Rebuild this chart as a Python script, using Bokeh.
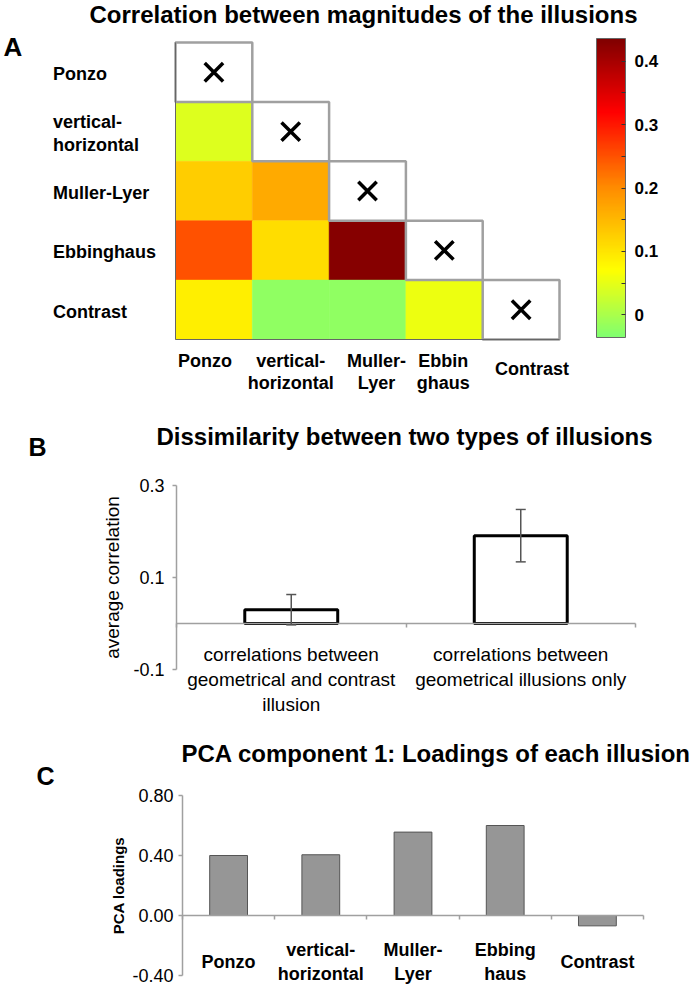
import numpy as np
from bokeh.plotting import figure
from bokeh.models import (ColumnDataSource, LinearColorMapper, ColorBar, FixedTicker,
                          LabelSet, Label, Whisker, TeeHead, NumeralTickFormatter,
                          Range1d, CustomJSTickFormatter)
from bokeh.layouts import column
from bokeh.embed import file_html
from bokeh.resources import INLINE
from bokeh.core.properties import value

FONT = "Liberation Sans"

# ---------------- data ----------------
illusions = ["Ponzo", "vertical-horizontal", "Muller-Lyer", "Ebbinghaus", "Contrast"]
row_labels = ["Ponzo", "vertical-\nhorizontal", "Muller-Lyer", "Ebbinghaus", "Contrast"]
col_labels = ["Ponzo", "vertical-\nhorizontal", "Muller-\nLyer", "Ebbin\nghaus", "Contrast"]
pair_row = ["vertical-horizontal", "Muller-Lyer", "Muller-Lyer", "Ebbinghaus", "Ebbinghaus",
            "Ebbinghaus", "Contrast", "Contrast", "Contrast", "Contrast"]
pair_col = ["Ponzo", "Ponzo", "vertical-horizontal", "Ponzo", "vertical-horizontal",
            "Muller-Lyer", "Ponzo", "vertical-horizontal", "Muller-Lyer", "Ebbinghaus"]
pair_corr = [0.042, 0.128, 0.166, 0.251, 0.108, 0.43, 0.089, -0.023, -0.023, 0.056]
cbar_ticks = [0.0, 0.1, 0.2, 0.3, 0.4]
cbar_minor = [-0.05, 0.05, 0.15, 0.25, 0.35]
cbar_low, cbar_high = -0.036, 0.436

group_labels = ["correlations between\ngeometrical and contrast\nillusion",
                "correlations between\ngeometrical illusions only"]
group_mean = [0.030, 0.191]
group_err = [0.033, 0.057]
b_ticks = [-0.1, 0.1, 0.3]
b_lim = (-0.1, 0.3)

pca_labels = ["Ponzo", "vertical-\nhorizontal", "Muller-\nLyer", "Ebbing\nhaus", "Contrast"]
pca_loadings = [0.40, 0.405, 0.556, 0.60, -0.069]
c_ticks = [-0.4, 0.0, 0.4, 0.8]
c_lim = (-0.4, 0.8)

# ---------------- colour map ----------------
anchor_v = [cbar_low, 0.07, 0.2, 0.32, cbar_high]
anchor_rgb = [(128, 255, 112), (255, 255, 0), (255, 140, 0), (255, 0, 0), (128, 0, 0)]
palette = []
for v in np.linspace(cbar_low, cbar_high, 256):
    rgb = [int(round(np.interp(v, anchor_v, [c[k] for c in anchor_rgb]))) for k in range(3)]
    palette.append("#%02x%02x%02x" % tuple(rgb))
mapper = LinearColorMapper(palette=palette, low=cbar_low, high=cbar_high)

W = 700


def span_range(lo, hi, px_lo, px_hi, total, flip=False):
    """Range so that data lo..hi occupies canvas pixels px_lo..px_hi (y measured from top if flip)."""
    per = (px_hi - px_lo) / (hi - lo)
    if flip:
        return Range1d(lo - (total - px_hi) / per, hi + px_lo / per)
    return Range1d(lo - px_lo / per, hi + (total - px_hi) / per)


def base_fig(h, xr, yr):
    p = figure(width=W, height=h, x_range=xr, y_range=yr, output_backend="svg",
               toolbar_location=None, tools="", outline_line_color=None,
               background_fill_color="white", border_fill_color="white", min_border=0)
    p.grid.visible = False
    return p


def screen_label(p, h, x, y_top, text, size, bold=True, align="left", angle=0.0):
    p.add_layout(Label(x=x, y=h - y_top, x_units="screen", y_units="screen", text=text,
                       text_font=FONT, text_font_size=size, angle=angle,
                       text_font_style="bold" if bold else "normal",
                       text_align=align, text_baseline="middle", text_color="black"))


def style_axis(ax, color="#a0a0a0", width=1.5):
    ax.axis_line_color = color
    ax.axis_line_width = width
    ax.major_tick_line_color = color
    ax.major_tick_line_width = width
    ax.major_tick_in = 0
    ax.major_tick_out = 4
    ax.minor_tick_line_color = None


def line_source(xs, ys, labels, base_off, lh, mode, dx=None, dy=None):
    """One row per text line, each with its own offsets (so every line is centred)."""
    d = dict(x=[], y=[], t=[], off=[], dx=[])
    dx = dx if dx is not None else [0] * len(labels)
    dy = dy if dy is not None else [0] * len(labels)
    for x, y, lab, ddx, ddy in zip(xs, ys, labels, dx, dy):
        lines = lab.split("\n")
        L = len(lines)
        for j, ln in enumerate(lines):
            off = base_off - j * lh if mode == "top" else base_off + ((L - 1) / 2 - j) * lh
            d["x"].append(x)
            d["y"].append(y)
            d["t"].append(ln)
            d["off"].append(off + ddy)
            d["dx"].append(ddx)
    return ColumnDataSource(d)


n = len(illusions)
# ================= Panel A =================
HA = 410
A_top, A_bot = 42, 339
pA = base_fig(HA, span_range(0, n, 175, 559, W), span_range(0, n, A_top, A_bot, HA, flip=True))

col_idx = np.array([illusions.index(c) for c in pair_col])
row_idx = np.array([illusions.index(r) for r in pair_row])
heat = ColumnDataSource(dict(x=col_idx + 0.5, y=n - 1 - row_idx + 0.5, v=pair_corr))
pA.rect(x="x", y="y", width=1, height=1, source=heat,
        fill_color={"field": "v", "transform": mapper},
        line_color={"field": "v", "transform": mapper}, line_width=0.5)
diag = np.arange(n)
diag_src = ColumnDataSource(dict(x=diag + 0.5, y=n - 1 - diag + 0.5))
pA.rect(x="x", y="y", width=1, height=1, source=diag_src, fill_color="white",
        line_color="#a0a0a0", line_width=2.5)
pA.scatter(x="x", y="y", source=diag_src, marker="x", size=26, line_width=3.5, line_color="black")

pA.xaxis.fixed_location = 0
pA.yaxis.fixed_location = 0
for ax in (pA.xaxis, pA.yaxis):
    ax.bounds = (0, n)
    ax.ticker = FixedTicker(ticks=[])
    style_axis(ax, "#666666", 1)

row_src = ColumnDataSource(dict(x=[0.5] * n, y=n - 1 - diag + 0.5, t=row_labels))
pA.add_layout(LabelSet(x="x", y="y", text="t", source=row_src, x_offset=-161, y_offset=-2,
                       text_align="left", text_baseline="middle", text_font=value(FONT),
                       text_font_size=value("18px"), text_font_style="bold", text_color="black",
                       text_line_height=1.15))
cell_h = (A_bot - A_top) / n
# small per-label nudges (pixels) so the labels sit where the original puts them
col_label_dx = [-9, 0, 9, -1, 11]
col_label_dy = [0, 0, 0, 0, -8]
col_src = line_source(diag + 0.5, [0.5] * n, col_labels, -(360 - (A_bot - cell_h / 2)), 22, "top",
                      dx=col_label_dx, dy=col_label_dy)
pA.add_layout(LabelSet(x="x", y="y", text="t", source=col_src, y_offset="off", x_offset="dx",
                       text_align="center", text_baseline="middle", text_font=value(FONT),
                       text_font_size=value("18px"), text_font_style="bold", text_color="black"))

cb = ColorBar(color_mapper=mapper, ticker=FixedTicker(ticks=cbar_ticks, minor_ticks=cbar_minor),
              formatter=NumeralTickFormatter(format="0.[0]"),
              width=29, height=299, location=(596, HA - 337), margin=0, padding=0,
              label_standoff=9,
              major_label_text_font=FONT, major_label_text_font_size="17px",
              major_label_text_font_style="bold", major_label_text_color="black",
              bar_line_color="#666666", major_tick_line_color="#333333",
              major_tick_in=4, major_tick_out=0, minor_tick_line_color="#333333",
              minor_tick_in=4, minor_tick_out=0, background_fill_color=None)
pA.add_layout(cb)

screen_label(pA, HA, 363, 14, "Correlation between magnitudes of the illusions", "24px", align="center")
screen_label(pA, HA, 3, 46, "A", "26px")

# ================= Panel B =================
HB = 310
m = len(group_mean)
pB = base_fig(HB, span_range(0, m, 176, 635, W), span_range(b_lim[0], b_lim[1], 75, 259, HB, flip=True))
b_x = np.arange(m) + 0.5
b_src = ColumnDataSource(dict(x=b_x, top=group_mean,
                              upper=np.array(group_mean) + np.array(group_err),
                              lower=np.array(group_mean) - np.array(group_err)))
pB.vbar(x="x", top="top", bottom=0, width=0.405, source=b_src, fill_color="white",
        line_color="black", line_width=3)
wB = Whisker(base="x", upper="upper", lower="lower", source=b_src, dimension="height",
             line_color="#555555", line_width=1.5, level="overlay",
             upper_head=TeeHead(size=10, line_color="#555555", line_width=1.5),
             lower_head=TeeHead(size=10, line_color="#555555", line_width=1.5))
pB.add_layout(wB)
blab_src = line_source(b_x, [0.0] * m, group_labels, -31, 25, "top")
pB.add_layout(LabelSet(x="x", y="y", text="t", source=blab_src, y_offset="off",
                       text_align="center", text_baseline="middle", text_font=value(FONT),
                       text_font_size=value("19px"), text_color="black"))

pB.yaxis.fixed_location = 0
pB.yaxis.bounds = b_lim
pB.yaxis.ticker = FixedTicker(ticks=b_ticks)
pB.yaxis.formatter = NumeralTickFormatter(format="0.0")
pB.yaxis.major_label_text_font = FONT
pB.yaxis.major_label_text_font_size = "18px"
pB.yaxis.major_label_text_color = "black"
pB.yaxis.major_label_standoff = 8
pB.xaxis.fixed_location = 0
pB.xaxis.bounds = (0, m)
pB.xaxis.ticker = FixedTicker(ticks=list(range(m + 1)))
pB.xaxis.formatter = CustomJSTickFormatter(code="return ''")
style_axis(pB.xaxis)
style_axis(pB.yaxis)

screen_label(pB, HB, 112, 167, "average correlation", "19px", bold=False, align="center",
             angle=np.pi / 2)
screen_label(pB, HB, 404, 26, "Dissimilarity between two types of illusions", "24px", align="center")
screen_label(pB, HB, 28, 36, "B", "25px")

# ================= Panel C =================
HC = 265
k = len(pca_loadings)
pC = base_fig(HC, span_range(0, k, 182, 643, W), span_range(c_lim[0], c_lim[1], 75, 255, HC, flip=True))
c_x = np.arange(k) + 0.5
c_src = ColumnDataSource(dict(x=c_x, top=pca_loadings))
pC.vbar(x="x", top="top", bottom=0, width=0.41, source=c_src, fill_color="#969696",
        line_color="#555555", line_width=1)
clab_src = line_source(c_x, [0.0] * k, pca_labels, -46, 24, "middle")
pC.add_layout(LabelSet(x="x", y="y", text="t", source=clab_src, y_offset="off",
                       text_align="center", text_baseline="middle", text_font=value(FONT),
                       text_font_size=value("18px"), text_font_style="bold", text_color="black"))
pC.yaxis.fixed_location = 0
pC.yaxis.bounds = c_lim
pC.yaxis.ticker = FixedTicker(ticks=c_ticks)
pC.yaxis.formatter = NumeralTickFormatter(format="0.00")
pC.yaxis.axis_label = "PCA loadings"
pC.yaxis.axis_label_text_font = FONT
pC.yaxis.axis_label_text_font_size = "15px"
pC.yaxis.axis_label_text_font_style = "bold"
pC.yaxis.axis_label_text_color = "black"
pC.yaxis.axis_label_standoff = 2
pC.yaxis.major_label_text_font = FONT
pC.yaxis.major_label_text_font_size = "18px"
pC.yaxis.major_label_text_color = "black"
pC.yaxis.major_label_standoff = 5
pC.xaxis.fixed_location = 0
pC.xaxis.bounds = (0, k)
pC.xaxis.ticker = FixedTicker(ticks=list(range(k + 1)))
pC.xaxis.formatter = CustomJSTickFormatter(code="return ''")
style_axis(pC.xaxis)
style_axis(pC.yaxis)

screen_label(pC, HC, 181, 33, "PCA component 1:  Loadings of each illusion", "24px")
screen_label(pC, HC, 36, 55, "C", "25px")

layout = column(pA, pB, pC, spacing=0)
open("out.html", "w").write(file_html(layout, INLINE))
